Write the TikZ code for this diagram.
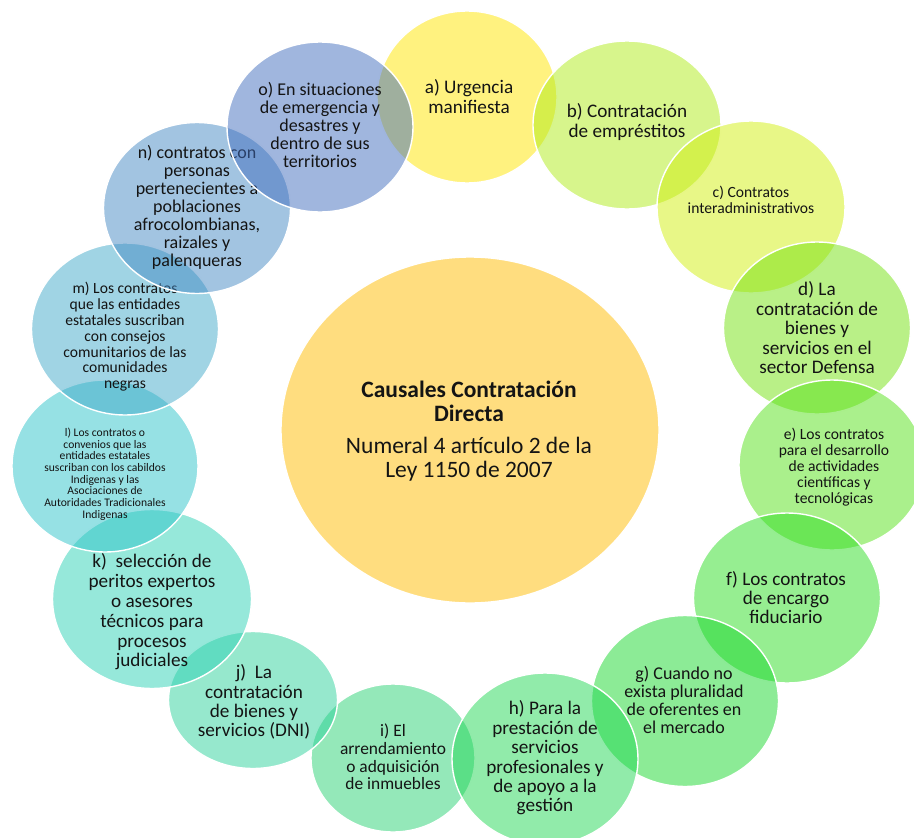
\documentclass[tikz,border=0pt]{standalone}
\usepackage{fontspec}
\setmainfont{Carlito}
\usetikzlibrary{shapes.geometric}

% pure fill colours; each bubble is laid down at half opacity
\definecolor{cCore}{RGB}{255,188,0}
\definecolor{cA}{RGB}{255,229,0}
\definecolor{cB}{RGB}{175,235,25}
\definecolor{cC}{RGB}{209,239,15}
\definecolor{cD}{RGB}{115,225,15}
\definecolor{cE}{RGB}{85,225,25}
\definecolor{cF}{RGB}{45,221,35}
\definecolor{cG}{RGB}{25,215,45}
\definecolor{cH}{RGB}{35,215,85}
\definecolor{cI}{RGB}{41,209,115}
\definecolor{cJ}{RGB}{45,209,155}
\definecolor{cK}{RGB}{45,209,181}
\definecolor{cL}{RGB}{45,195,201}
\definecolor{cM}{RGB}{65,169,201}
\definecolor{cN}{RGB}{69,137,195}
\definecolor{cO}{RGB}{65,109,189}
\definecolor{ink}{RGB}{20,20,20}

\newcommand{\fsz}[2]{\fontsize{#1pt}{#2pt}\selectfont}

\tikzset{
  bubble/.style={ellipse, draw=white, line width=1.4pt, fill opacity=0.5,
                 draw opacity=1, inner sep=0pt},
  bubtext/.style={align=center, text=ink, inner sep=0pt},
}

\begin{document}
\begin{tikzpicture}[x=1pt, y=-1pt]
\useasboundingbox (0,0) rectangle (914,838);

% central circle
\node[bubble, fill=cCore, minimum width=378pt, minimum height=346pt] (core) at (470,430) {};
\node[bubtext, font=\fsz{23.5}{23.5}] (coret) at (469,431) {\textbf{Causales Contratación}\\\textbf{Directa}\\[9pt]
  Numeral 4 artículo 2 de la\\Ley 1150 de 2007};

% i sits beneath both neighbours
\node[bubble, fill=cI, minimum width=164pt, minimum height=148pt] (i) at (393,758) {};
\node[bubtext, font=\fsz{17.4}{17.7}] (it) at (393,757) {i) El\\arrendamiento\\o adquisición\\de inmuebles};

\node[bubble, fill=cA, minimum width=180pt, minimum height=172pt] (a) at (467,97) {};
\node[bubtext, font=\fsz{19.2}{20}] (at) at (469,97) {a) Urgencia\\manifiesta};

\node[bubble, fill=cB, minimum width=188pt, minimum height=168pt] (b) at (627,125) {};
\node[bubtext, font=\fsz{19.2}{20}] (bt) at (627,122) {b) Contratación\\de empréstitos};

\node[bubble, fill=cC, minimum width=188pt, minimum height=172pt] (c) at (751,207) {};
\node[bubtext, font=\fsz{15.6}{16}] (ct) at (751,200) {c) Contratos\\interadministrativos};

\node[bubble, fill=cD, minimum width=187pt, minimum height=172pt] (d) at (817,328) {};
\node[bubtext, font=\fsz{19.2}{19.5}] (dt) at (817,328) {d) La\\contratación de\\bienes y\\servicios en el\\sector Defensa};

\node[bubble, fill=cE, minimum width=186pt, minimum height=170pt] (e) at (832,465) {};
\node[bubtext, font=\fsz{15.6}{16}] (et) at (834,467) {e) Los contratos\\para el desarrollo\\de actividades\\científicas y\\tecnológicas};

\node[bubble, fill=cF, minimum width=187pt, minimum height=170pt] (f) at (787,598) {};
\node[bubtext, font=\fsz{19.2}{19}] (ft) at (786,598) {f) Los contratos\\de encargo\\fiduciario};

\node[bubble, fill=cG, minimum width=187pt, minimum height=171pt] (g) at (685,701) {};
\node[bubtext, font=\fsz{18}{18.3}] (gt) at (684,700) {g) Cuando no\\exista pluralidad\\de oferentes en\\el mercado};

\node[bubble, fill=cH, minimum width=186pt, minimum height=172pt] (h) at (545,759) {};
\node[bubtext, font=\fsz{19.2}{19.4}] (ht) at (545,758) {h) Para la\\prestación de\\servicios\\profesionales y\\de apoyo a la\\gestión};

\node[bubble, fill=cJ, minimum width=169pt, minimum height=137pt] (j) at (253,700) {};
\node[bubtext, font=\fsz{19.2}{19.3}] (jt) at (254,702) {j)\ \ La\\contratación\\de bienes y\\servicios (DNI)};

\node[bubble, fill=cK, minimum width=199pt, minimum height=179pt] (k) at (152,599) {};
\node[bubtext, font=\fsz{19.2}{19.8}] (kt) at (152,612) {k)\ \ selección de\\peritos expertos\\o asesores\\técnicos para\\procesos\\judiciales};

\node[bubble, fill=cL, minimum width=186pt, minimum height=172pt] (l) at (105,466) {};
\node[bubtext, font=\fsz{11.6}{11.7}] (lt) at (105,474) {l) Los contratos o\\convenios que las\\entidades estatales\\suscriban con los cabildos\\Indigenas y las\\Asociaciones de\\Autoridades Tradicionales\\Indigenas};

\node[bubble, fill=cM, minimum width=187pt, minimum height=172pt] (m) at (125,329) {};
\node[bubtext, font=\fsz{15.6}{15.8}] (mt) at (125,337) {m) Los contratos\\que las entidades\\estatales suscriban\\con consejos\\comunitarios de las\\comunidades\\negras};

\node[bubble, fill=cN, minimum width=187pt, minimum height=171pt] (n) at (197,208) {};
\node[bubtext, font=\fsz{18}{18}] (nt) at (197,207) {n) contratos con\\personas\\pertenecientes a\\poblaciones\\afrocolombianas,\\raizales y\\palenqueras};

\node[bubble, fill=cO, minimum width=186pt, minimum height=170pt] (o) at (320,127) {};
\node[bubtext, font=\fsz{18}{18}] (ot) at (320,125) {o) En situaciones\\de emergencia y\\desastres y\\dentro de sus\\territorios};
\end{tikzpicture}
\end{document}
